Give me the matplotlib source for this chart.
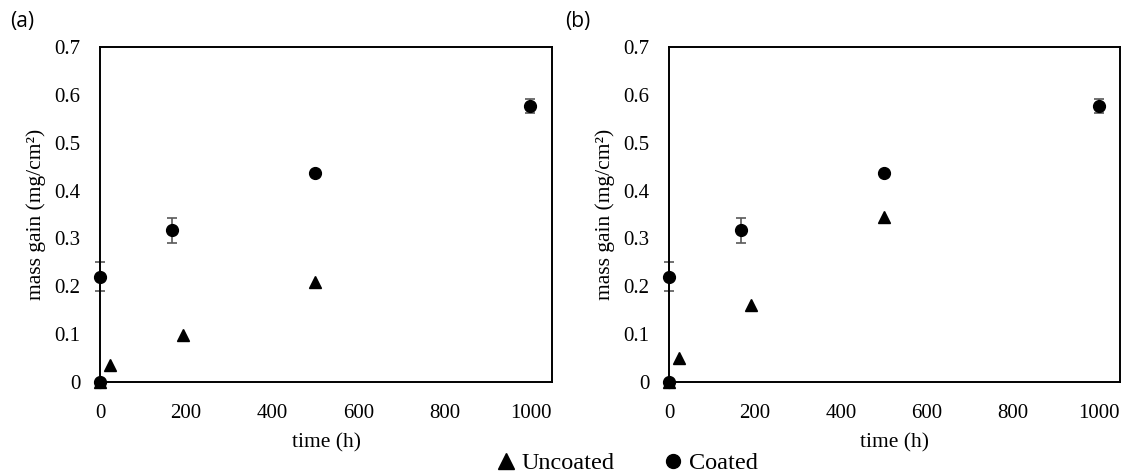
import matplotlib
matplotlib.use("Agg")
import matplotlib.pyplot as plt
from matplotlib.lines import Line2D

# ---- data ----
coated_t = [0, 0, 168, 500, 1000]
coated_a = [0.0, 0.22, 0.317, 0.437, 0.577]
coated_err = [0.0, 0.03, 0.026, 0.004, 0.015]

uncoated_t = [0, 24, 192, 500]
uncoated_a = [0.0, 0.035, 0.098, 0.209]
uncoated_b = [0.0, 0.05, 0.16, 0.345]

coated_b = coated_a
panel_labels = ["(a)", "(b)"]
xticks = [0, 200, 400, 600, 800, 1000]
yticks = [0, 0.1, 0.2, 0.3, 0.4, 0.5, 0.6, 0.7]
ytick_labels = ["0", "0.1", "0.2", "0.3", "0.4", "0.5", "0.6", "0.7"]

plt.rcParams["font.family"] = ["Liberation Serif", "DejaVu Serif"]
sans = ["Open Sans", "DejaVu Sans"]

W, H = 1122, 473
fig = plt.figure(figsize=(W / 100, H / 100), dpi=100)

def px_axes(x0, y0, x1, y1):
    return fig.add_axes([x0 / W, 1 - y1 / H, (x1 - x0) / W, (y1 - y0) / H])

axes = [px_axes(100, 47, 552, 382), px_axes(669, 47, 1120, 382)]
unc_sets = [uncoated_a, uncoated_b]
coat_sets = [coated_a, coated_b]

for ax, unc, coat, lab in zip(axes, unc_sets, coat_sets, panel_labels):
    ax.errorbar(coated_t, coat, yerr=coated_err, fmt="none", ecolor="#595959",
                elinewidth=1.2, capsize=3.5, capthick=1.2, zorder=2, clip_on=False)
    ax.plot(uncoated_t, unc, linestyle="none", marker="^", color="black",
            markersize=8, zorder=3, clip_on=False)
    ax.plot(coated_t, coat, linestyle="none", marker="o", color="black",
            markersize=8.5, zorder=4, clip_on=False)
    ax.set_xlim(0, 1050)
    ax.set_ylim(0, 0.7)
    ax.set_xticks(xticks)
    ax.set_xticklabels([str(v) for v in xticks])
    ax.set_yticks(yticks)
    ax.set_yticklabels(ytick_labels)
    ax.tick_params(axis="both", length=0, labelsize=15)
    ax.tick_params(axis="x", pad=16)
    ax.tick_params(axis="y", pad=14)
    for s in ax.spines.values():
        s.set_linewidth(1.4)
        s.set_color("black")
    ax.set_xlabel("time (h)", fontsize=15.5, labelpad=7)
    ax.set_ylabel("mass gain (mg/cm²)", fontsize=15.5, labelpad=6)

fig.text(10 / W, 1 - 22 / H, panel_labels[0], fontfamily=sans, fontsize=15,
         va="center", ha="left")
fig.text(565 / W, 1 - 22 / H, panel_labels[1], fontfamily=sans, fontsize=15,
         va="center", ha="left")

handles = [Line2D([], [], linestyle="none", marker="^", color="black", markersize=11),
           Line2D([], [], linestyle="none", marker="o", color="black", markersize=10)]
fig.legend(handles, ["Uncoated", "Coated"], loc="center",
           bbox_to_anchor=(626 / W, 1 - 463 / H), ncol=2, frameon=False,
           prop={"size": 17.5}, handletextpad=0.15,
           columnspacing=1.9, handlelength=1.0, borderpad=0)

fig.savefig("out.png", dpi=100)
